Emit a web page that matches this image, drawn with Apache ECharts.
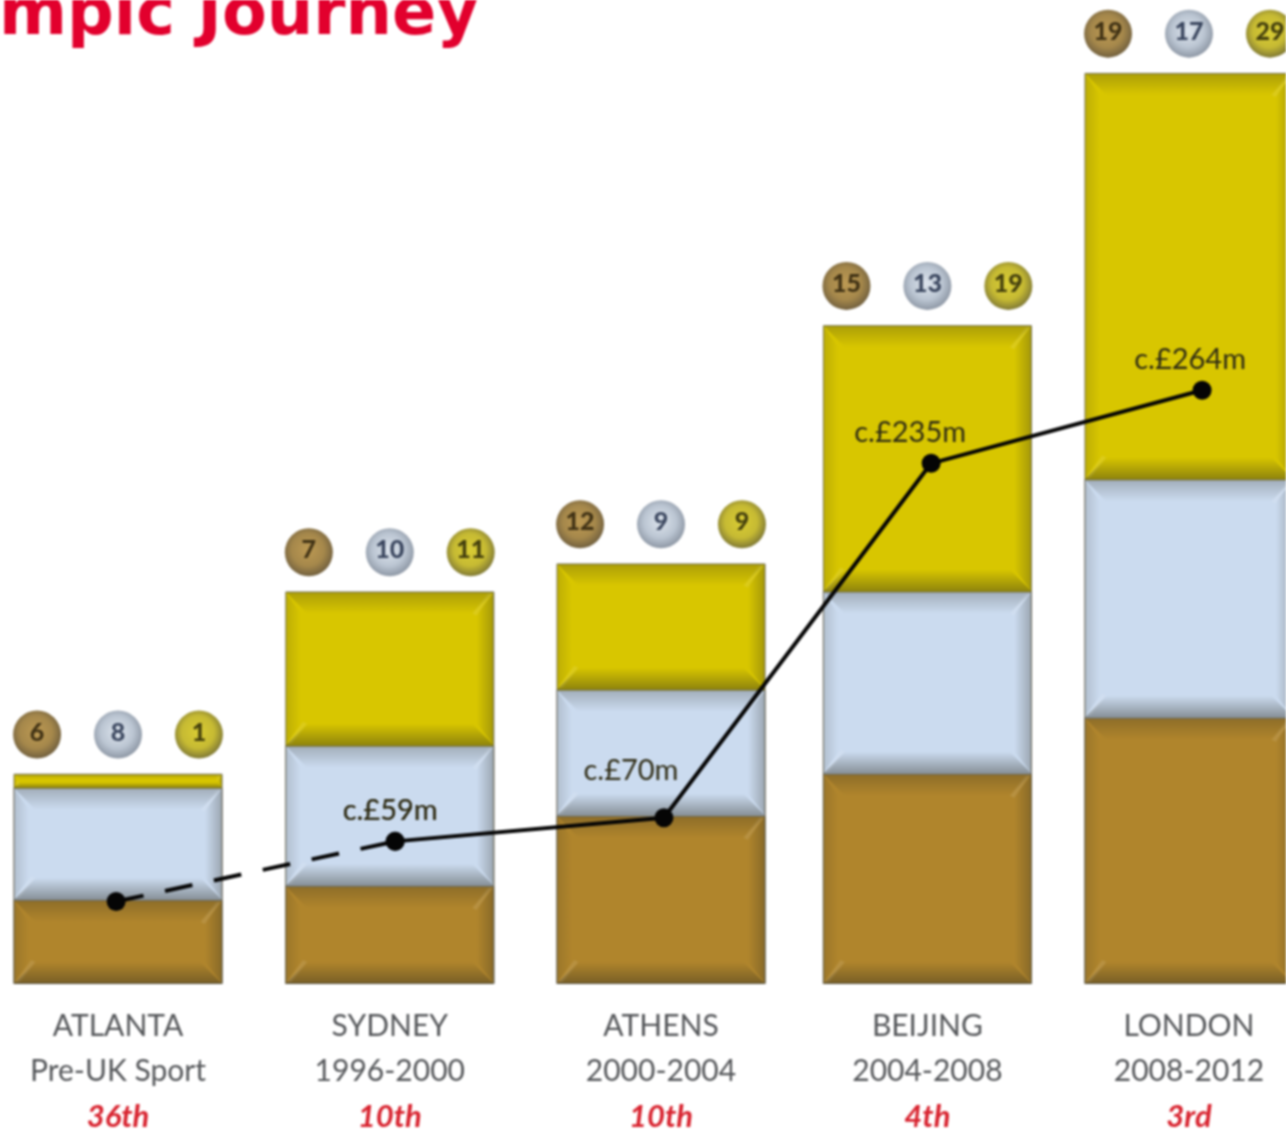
<!DOCTYPE html>
<html>
<head>
<meta charset="utf-8">
<style>
html,body{margin:0;padding:0;background:#fff;overflow:hidden}
#chart{width:1286px;height:1132px;filter:blur(0.8px)}
</style>
<script src="https://cdn.jsdelivr.net/npm/echarts@6/dist/echarts.min.js"></script>
</head>
<body>
<div id="chart"></div>
<script>
const titleText = "mpic Journey";
const games = ["ATLANTA", "SYDNEY", "ATHENS", "BEIJING", "LONDON"];
const periods = ["Pre-UK Sport", "1996-2000", "2000-2004", "2004-2008", "2008-2012"];
const ranks = ["36th", "10th", "10th", "4th", "3rd"];
const bronze = [6, 7, 12, 15, 19];
const silver = [8, 10, 9, 13, 17];
const gold = [1, 11, 9, 19, 29];
const cyclePosition = [0, 1.014, 2.026, 3.02, 3.996];
const fundingPosition = [-0.007, 1.034, 2.037, 3.034, 4.045];
const fundingPlotted = [31, 59, 70, 235, 269];
const fundingLabels = ["", "c.£59m", "c.£70m", "c.£235m", "c.£264m"];

const totals = bronze.map((b, i) => b + silver[i] + gold[i]);
const bronzeTop = bronze;
const silverTop = bronze.map((b, i) => b + silver[i]);
const xData = (vals) => vals.map((v, i) => [cyclePosition[i], v]);

function bevel(params, api) {
  const x = api.value(0);
  const w = api.size([0.78, 0])[0];
  const p0 = api.coord([x, api.value(1)]);
  const p1 = api.coord([x, api.value(2)]);
  const l = p0[0] - w / 2, r = p0[0] + w / 2, t = p1[1], btm = p0[1];
  const h = btm - t;
  const b = Math.min(22, h * 0.4);
  const G = echarts.graphic.LinearGradient;
  const fade = (x0, y0, x1, y1, a) => new G(x0, y0, x1, y1, [
    { offset: 0, color: 'rgba(40,40,30,' + a + ')' },
    { offset: 1, color: 'rgba(40,40,30,0)' }
  ]);
  const poly = (pts, fill) => ({ type: 'polygon', shape: { points: pts }, style: { fill: fill }, silent: true });
  return {
    type: 'group',
    children: [
      poly([[l, t], [r, t], [r - b, t + b], [l + b, t + b]], fade(0, 0, 0, 1, 0.26)),
      poly([[l, btm], [r, btm], [r - b, btm - b], [l + b, btm - b]], fade(0, 1, 0, 0, 0.42)),
      poly([[l, t], [l + b * 0.7, t + b], [l + b * 0.7, btm - b], [l, btm]], fade(0, 0, 1, 0, 0.16)),
      poly([[r, t], [r - b * 0.8, t + b], [r - b * 0.8, btm - b], [r, btm]], fade(1, 0, 0, 0, 0.3)),
      poly([[r - 2, t + 2], [r - b * 0.8, t + b + 2], [r - b, t + b], [r - 6, t + 2]], 'rgba(255,255,255,0.1)'),
      poly([[l + 2, btm - 2], [l + b * 0.8, btm - b - 2], [l + b, btm - b], [l + 6, btm - 2]], 'rgba(255,255,255,0.1)')
    ]
  };
}

const bevelData = [];
bronze.forEach((b, i) => {
  const s = silver[i], g = gold[i], x = cyclePosition[i];
  bevelData.push([x, 0, b], [x, b, b + s], [x, b + s, b + s + g]);
});

function barSeries(name, vals, color) {
  return {
    name, type: 'bar', barWidth: 209, barGap: '-100%', data: xData(vals), z: 2,
    itemStyle: { color, borderColor: 'rgba(110,105,90,0.75)', borderWidth: 1 }
  };
}

function ball(name, vals, dx, inner, mid, edge, textColor) {
  return {
    name: name + ' count', type: 'scatter', symbol: 'circle', symbolSize: 48, z: 6,
    data: vals.map((v, i) => [cyclePosition[i] + dx, totals[i] + 2.8, v]),
    itemStyle: {
      color: new echarts.graphic.RadialGradient(0.48, 0.45, 0.56, [
        { offset: 0, color: inner }, { offset: 0.6, color: mid }, { offset: 1, color: edge }
      ])
    },
    label: {
      show: true, position: 'inside', offset: [0, -2], formatter: (p) => String(p.value[2]),
      fontFamily: 'Lato', fontWeight: 900, fontSize: 25, color: textColor
    }
  };
}

const labelOffsets = [[0, 0], [-5, -2], [-33, -18], [-21, -2], [-12, -2]];
const fundingPts = fundingPlotted.map((v, i) => ({
  value: [fundingPosition[i], v],
  label: { offset: labelOffsets[i] }
}));
const lineCommon = {
  type: 'line', yAxisIndex: 1, symbol: 'circle', symbolSize: 19, z: 5,
  lineStyle: { color: '#050505', width: 4 }, itemStyle: { color: '#050505' },
  label: {
    show: true, position: 'top', fontFamily: 'Lato', fontSize: 29, color: '#2e2b14',
    formatter: (p) => fundingLabels[fundingPosition.indexOf(p.value[0])]
  }
};

const chart = echarts.init(document.getElementById('chart'), null, { renderer: 'canvas', width: 1286, height: 1132 });
chart.setOption({
  animation: false,
  backgroundColor: '#ffffff',
  title: {
    text: titleText, left: -6, top: -20,
    textStyle: { color: '#e2002d', fontFamily: 'DejaVu Sans', fontWeight: 'bold', fontSize: 65.3 }
  },
  tooltip: { show: false },
  legend: { show: false },
  grid: { left: 0, right: 0, top: 0, bottom: 147 },
  xAxis: {
    type: 'value', min: -0.4403, max: 4.358, splitLine: { show: false },
    axisLine: { show: false }, axisTick: { show: false },
    axisLabel: {
      show: true, customValues: cyclePosition, margin: 20, interval: 0,
      formatter: (v) => {
        const i = cyclePosition.indexOf(v);
        return '{a|' + games[i] + '}\n{a|' + periods[i] + '}\n{c|' + ranks[i] + '}';
      },
      rich: {
        a: { fontFamily: 'Lato', fontSize: 30, lineHeight: 45, color: '#55575a', align: 'center' },
        c: { fontFamily: 'Lato', fontSize: 31, lineHeight: 45, color: '#d8232f', fontStyle: 'italic', fontWeight: 'bold', align: 'center' }
      }
    }
  },
  yAxis: [
    { type: 'value', min: 0, max: 70.2, show: false, splitLine: { show: false } },
    { type: 'value', min: -7.4, max: 450.7, show: false, splitLine: { show: false } }
  ],
  series: [
    barSeries('Gold', totals, '#d8c600'),
    barSeries('Silver', silverTop, '#cbdbef'),
    barSeries('Bronze', bronzeTop, '#b0852c'),
    { type: 'custom', name: 'bevel', z: 3, silent: true, data: bevelData, encode: { x: 0, y: [1, 2] }, renderItem: bevel, clip: false },
    Object.assign({}, lineCommon, { name: 'Funding pre-UK Sport', data: fundingPts.slice(0, 2), lineStyle: { color: '#050505', width: 4, type: [28, 22] } }),
    Object.assign({}, lineCommon, { name: 'Funding', data: fundingPts.slice(1) }),
    ball('Bronze', bronze, -0.302, '#ac8028', '#8f6a1e', '#4b360e', '#241a06'),
    ball('Silver', silver, 0, '#d4dde8', '#aab7c7', '#6f7b8c', '#16233e'),
    ball('Gold', gold, 0.302, '#d0c000', '#b8a900', '#5c5402', '#201e04')
  ]
});
</script>
</body>
</html>
